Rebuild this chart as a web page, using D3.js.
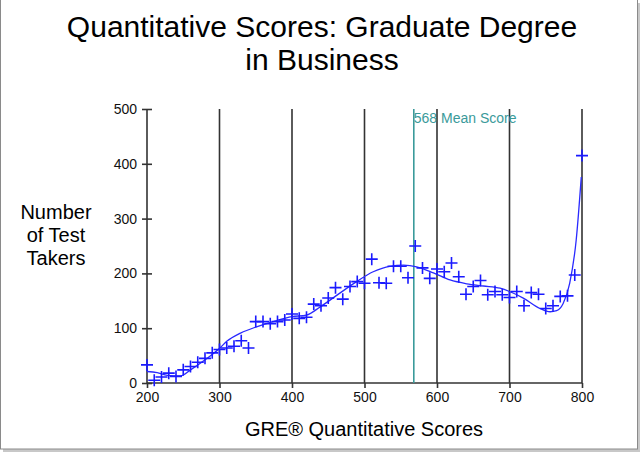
<!DOCTYPE html>
<html>
<head>
<meta charset="utf-8">
<script src="https://cdn.jsdelivr.net/npm/d3@7"></script>
<style>
  body { margin: 0; background: #fff; }
  svg { display: block; font-family: "Liberation Sans", Arial, sans-serif; }
</style>
</head>
<body>
<div id="chart-area"></div>
<script>
// scores 200..800 in steps of 10
var scores = d3.range(200, 801, 10);
var takers = [33, 5, 11, 18, 12, 24, 30, 38, 45, 55,
              61, 64, 67, 77, 64, 112, 112, 108, 112, 115,
              126, 118, 120, 144, 141, 155, 174, 153, 176, 185,
              182, 226, 183, 182, 213, 213, 192, 250, 210, 191,
              208, 203, 219, 194, 162, 176, 187, 161, 167, 161,
              156, 167, 141, 165, 162, 136, 141, 158, 159, 197,
              415];

// smoothed fit
var fitX = [200, 214, 228, 246, 260, 283, 299, 310, 329, 352, 374, 400, 420, 439, 466, 489, 512, 535, 554, 572,
            595, 618, 641, 664, 687, 700, 719, 742, 756, 765, 774, 783, 792, 799];
var fitY = [21, 19, 14, 13, 24, 45, 62, 76, 91, 103, 112, 121, 124, 139, 164, 185, 203, 213, 215, 212,
            201, 188, 181, 177, 173, 167, 155, 136, 130, 132, 145, 182, 261, 376];

var xTicks = [200, 300, 400, 500, 600, 700, 800];
var yTicks = [0, 100, 200, 300, 400, 500];
var meanScore = 568;

var W = 644, H = 456;
var margin = {left: 147, right: 62, top: 109, bottom: 73};
var width = W - margin.left - margin.right,
    height = H - margin.top - margin.bottom;

var svg = d3.select("#chart-area")
    .append("svg")
        .attr("width", W)
        .attr("height", H);

// picture frame with a little shadow
svg.append("rect")
    .attr("x", 3).attr("y", 3)
    .attr("width", 637).attr("height", 449)
    .attr("fill", "#c8c8c8");
svg.append("rect")
    .attr("x", 0.5).attr("y", -1)
    .attr("width", 637).attr("height", 450)
    .attr("fill", "#fff")
    .attr("stroke", "#8a8a8a");

// title
svg.append("text")
    .attr("x", 322).attr("y", 37)
    .attr("text-anchor", "middle")
    .attr("font-size", "30px")
    .text("Quantitative Scores: Graduate Degree");
svg.append("text")
    .attr("x", 322).attr("y", 70)
    .attr("text-anchor", "middle")
    .attr("font-size", "30px")
    .text("in Business");

var g = svg.append("g")
    .attr("transform", "translate(" + margin.left + "," + margin.top + ")");

var x = d3.scaleLinear().domain([200, 800]).range([0, width]);
var y = d3.scaleLinear().domain([0, 500]).range([height, 0]);

// vertical grid lines
g.selectAll(".grid")
    .data(xTicks.slice(1))
    .enter().append("line")
        .attr("class", "grid")
        .attr("x1", d => x(d)).attr("x2", d => x(d))
        .attr("y1", 0).attr("y2", height)
        .attr("stroke", "#333")
        .attr("stroke-width", 1.6);

// axes
var xAxisCall = d3.axisBottom(x).tickValues(xTicks).tickSize(5).tickPadding(4);
var xAxis = g.append("g")
    .attr("class", "x-axis")
    .attr("transform", "translate(0," + height + ")")
    .call(xAxisCall);

var yAxisCall = d3.axisLeft(y).tickValues(yTicks).tickSize(10).tickPadding(0);
var yAxis = g.append("g")
    .attr("class", "y-axis")
    .call(yAxisCall);
yAxis.selectAll(".tick line").attr("transform", "translate(5,0)");

[xAxis, yAxis].forEach(function(a) {
    a.select(".domain").attr("stroke", "#333").attr("stroke-width", 1.6);
    a.selectAll(".tick line").attr("stroke", "#333").attr("stroke-width", 1.6);
    a.selectAll(".tick text")
        .attr("font-family", "'Liberation Sans', Arial, sans-serif")
        .attr("font-size", "14px")
        .attr("fill", "#111");
});
xAxis.select(".domain").attr("d", "M0,0H" + width);
yAxis.select(".domain").attr("d", "M0," + height + "V0");

// mean line
g.append("line")
    .attr("x1", x(meanScore)).attr("x2", x(meanScore))
    .attr("y1", 0).attr("y2", height)
    .attr("stroke", "#3a9a9a")
    .attr("stroke-width", 1.6);
g.append("text")
    .attr("x", x(meanScore)).attr("y", 14)
    .attr("font-size", "14px")
    .attr("fill", "#3a9a9a")
    .text(meanScore + " Mean Score");

// fitted curve
var fit = fitX.map((d, i) => ({s: d, v: fitY[i]}));
g.append("path")
    .datum(fit)
    .attr("fill", "none")
    .attr("stroke", "#2a2aff")
    .attr("stroke-width", 1.3)
    .attr("d", d3.line().x(d => x(d.s)).y(d => y(d.v)).curve(d3.curveMonotoneX));

// plus markers
var pts = scores.map((d, i) => ({s: d, v: takers[i]}));
g.selectAll(".pt")
    .data(pts)
    .enter().append("path")
        .attr("class", "pt")
        .attr("transform", d => "translate(" + x(d.s) + "," + y(d.v) + ")")
        .attr("d", "M-6,0H6M0,-6V6")
        .attr("stroke", "#1a1aff")
        .attr("stroke-width", 1.6)
        .attr("fill", "none");

// axis titles
svg.append("text")
    .attr("x", 364).attr("y", 436)
    .attr("text-anchor", "middle")
    .attr("font-size", "20px")
    .text("GRE\u00AE Quantitative Scores");

var yl = svg.append("text")
    .attr("text-anchor", "middle")
    .attr("font-size", "20px");
["Number", "of Test", "Takers"].forEach(function(t, i) {
    yl.append("tspan")
        .attr("x", 56).attr("y", 219 + i * 23)
        .text(t);
});
</script>
</body>
</html>
